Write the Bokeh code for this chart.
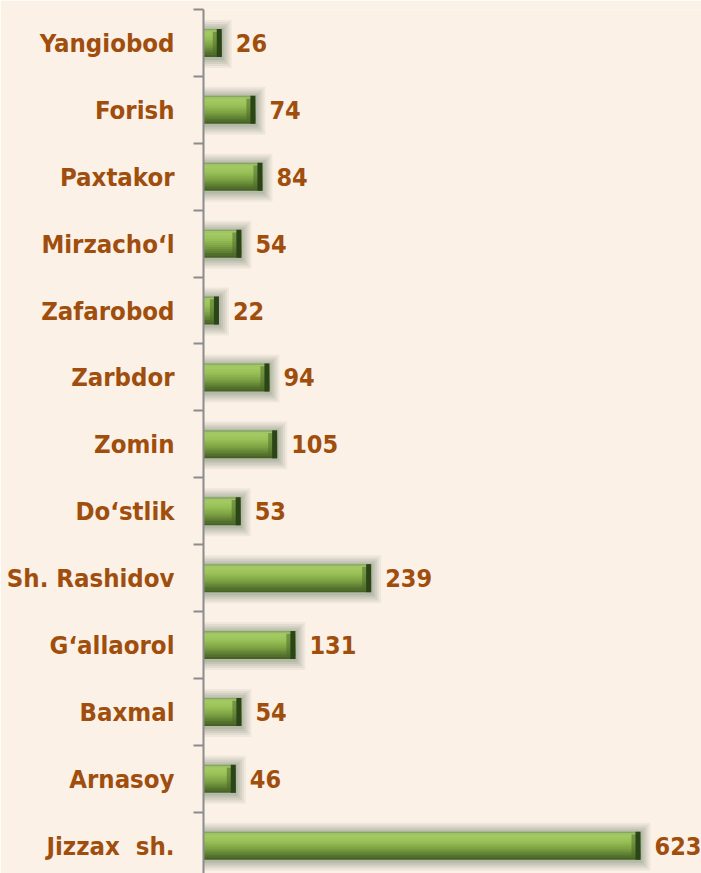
from bokeh.plotting import figure
from bokeh.models import Range1d, FixedTicker, ColumnDataSource
from bokeh.core.properties import value
from bokeh.embed import file_html
from bokeh.resources import INLINE

# ---- data (top to bottom as shown) ----
categories = ["Yangiobod", "Forish", "Paxtakor", "Mirzacho\u2018l", "Zafarobod", "Zarbdor",
              "Zomin", "Do\u2018stlik", "Sh. Rashidov", "G\u2018allaorol", "Baxmal", "Arnasoy",
              "Jizzax\u00a0\u00a0sh."]
values = [26, 74, 84, 54, 22, 94, 105, 53, 239, 131, 54, 46, 623]

# ---- styling ----
BG = "#FBF1E7"
TXT = "#9F4E0E"
FONT = "'DejaVu Sans Condensed', sans-serif"
FS = "25.5px"
FS_VAL = "25px"

W, H = 701, 873
LEFT, TOP = 203, 9
X_END = 710.0
px_x = (W - LEFT) / X_END          # px per data unit (x)
n = len(categories)
ys = [n - i for i in range(n)]     # top category at n
Y_LO = 0.585
px_y = (H - TOP) / (n + 0.5 - Y_LO)  # px per data unit (y)

p = figure(width=W, height=H, output_backend="svg", toolbar_location=None,
           x_range=Range1d(0, X_END), y_range=Range1d(Y_LO, n + 0.5),
           x_axis_location=None, min_border_left=LEFT, min_border_top=TOP,
           min_border_right=0, min_border_bottom=0)
p.background_fill_color = BG
p.border_fill_color = BG
p.outline_line_color = None
p.xgrid.visible = False
p.ygrid.visible = False

ax = p.yaxis[0]
ax.ticker = FixedTicker(ticks=ys, minor_ticks=[k + 0.5 for k in range(n + 1)])
ax.major_label_overrides = {y: c for y, c in zip(ys, categories)}
ax.major_tick_line_color = None
ax.major_tick_out = 10
ax.major_tick_in = 0
ax.minor_tick_line_color = "#8C8C8C"
ax.minor_tick_line_width = 2
ax.minor_tick_out = 10
ax.minor_tick_in = 0
ax.axis_line_color = "#8C8C8C"
ax.axis_line_width = 2
ax.major_label_standoff = 19
ax.major_label_text_font = FONT
ax.major_label_text_font_style = "bold"
ax.major_label_text_font_size = FS
ax.major_label_text_color = TXT

src = ColumnDataSource(dict(y=ys, v=values, lab=[str(v) for v in values]))

BAR_PX = 28.0
bar_h = BAR_PX / px_y

# glow / soft shadow
for g, a in [(10, 0.09), (8, 0.11), (6, 0.13), (4, 0.15), (2, 0.18)]:
    gsrc = ColumnDataSource(dict(y=[y - 1.0 / px_y for y in ys],
                                 r=[v + g / px_x for v in values]))
    p.hbar(y="y", left=0, right="r", height=(BAR_PX + 2 * g) / px_y, source=gsrc,
           fill_color="#77876A", fill_alpha=a, line_color=None)

# vertical gradient built from thin strips
def hex2rgb(h):
    h = h.lstrip("#")
    return tuple(int(h[i:i + 2], 16) for i in (0, 2, 4))

stops = [(0.0, "#7A965A"), (0.12, "#A6CC66"), (0.35, "#9AC258"),
         (0.6, "#7FA445"), (0.82, "#5F7F33"), (1.0, "#405B22")]

def color_at(t):
    for (t0, c0), (t1, c1) in zip(stops[:-1], stops[1:]):
        if t0 <= t <= t1:
            f = (t - t0) / (t1 - t0) if t1 > t0 else 0
            a, b = hex2rgb(c0), hex2rgb(c1)
            return "#%02x%02x%02x" % tuple(round(a[i] + (b[i] - a[i]) * f) for i in range(3))
    return stops[-1][1]

NS = 14
for k in range(NS):
    t = (k + 0.5) / NS
    off = (0.5 - (k + 0.5) / NS) * bar_h
    ssrc = ColumnDataSource(dict(y=[y + off for y in ys], v=values))
    h = bar_h / NS * (1.6 if 0 < k < NS - 1 else 1.0)
    p.hbar(y="y", left=0, right="v", height=h, source=ssrc,
           fill_color=color_at(t), line_color=None)

# dark end cap with bevel
cap1 = ColumnDataSource(dict(y=ys, l=[v - 9 / px_x for v in values], r=values))
p.hbar(y="y", left="l", right="r", height=bar_h * 0.8, source=cap1,
       fill_color="#4E6E2A", fill_alpha=0.55, line_color=None)
cap2 = ColumnDataSource(dict(y=ys, l=[v - 5 / px_x for v in values], r=values))
p.hbar(y="y", left="l", right="r", height=bar_h, source=cap2,
       fill_color="#2B4518", line_color=None)

# value labels
p.text(x="v", y="y", text="lab", source=src, x_offset=14,
       text_font=value(FONT), text_font_style="bold", text_font_size=FS_VAL,
       text_color=TXT, text_baseline="middle", text_align="left")

open("out.html", "w").write(file_html(p, INLINE))
